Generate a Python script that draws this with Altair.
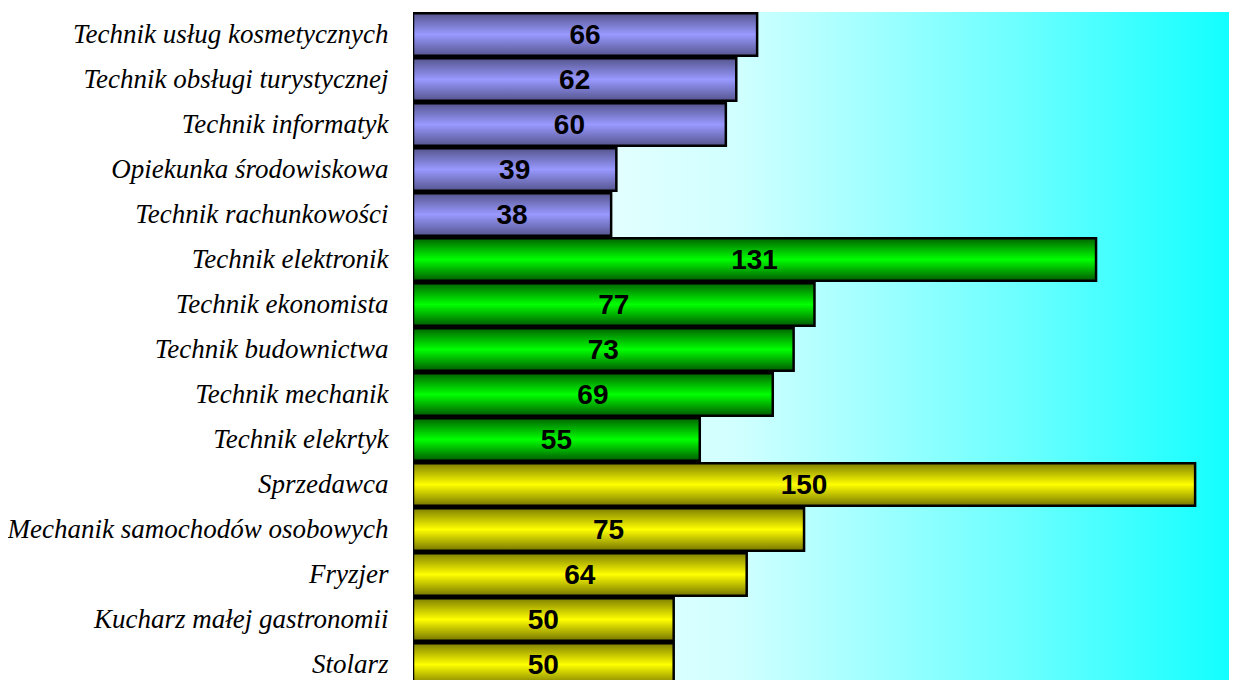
import altair as alt
import pandas as pd

categories = [
    "Technik usług kosmetycznych",
    "Technik obsługi turystycznej",
    "Technik informatyk",
    "Opiekunka środowiskowa",
    "Technik rachunkowości",
    "Technik elektronik",
    "Technik ekonomista",
    "Technik budownictwa",
    "Technik mechanik",
    "Technik elekrtyk",
    "Sprzedawca",
    "Mechanik samochodów osobowych",
    "Fryzjer",
    "Kucharz małej gastronomii",
    "Stolarz",
]
values = [66, 62, 60, 39, 38, 131, 77, 73, 69, 55, 150, 75, 64, 50, 50]
groups = ["a"] * 5 + ["b"] * 5 + ["c"] * 5

df = pd.DataFrame({"cat": categories, "val": values, "grp": groups})

W, H = 816, 668

def vgrad(edge_top, mid, edge_bot):
    return alt.Gradient(
        gradient="linear",
        x1=0, y1=0, x2=0, y2=1,
        stops=[
            alt.GradientStop(offset=0, color=edge_top),
            alt.GradientStop(offset=0.5, color=mid),
            alt.GradientStop(offset=1, color=edge_bot),
        ],
    )

grad_fill = {
    "a": vgrad("#55558f", "#9999ff", "#55558f"),
    "b": vgrad("#006600", "#00ff00", "#005a00"),
    "c": vgrad("#808000", "#ffff00", "#767600"),
}

bg_grad = alt.Gradient(
    gradient="linear",
    x1=0, y1=0, x2=1, y2=0,
    stops=[
        alt.GradientStop(offset=0, color="#ffffff"),
        alt.GradientStop(offset=0.4, color="#d0ffff"),
        alt.GradientStop(offset=0.75, color="#6affff"),
        alt.GradientStop(offset=1, color="#12ffff"),
    ],
)

yscale = alt.Scale(domain=categories, range=[0, 675], paddingInner=0.06, paddingOuter=0.03)
xscale = alt.Scale(domain=[0, 156.5], nice=False, zero=True)

yenc = alt.Y(
    "cat:N",
    sort=categories,
    scale=yscale,
    axis=alt.Axis(
        title=None,
        domain=False,
        ticks=False,
        labelFont="Liberation Serif",
        labelFontStyle="italic",
        labelFontSize=27,
        labelColor="#000000",
        labelPadding=25,
        labelLimit=600,
    ),
)

bg = alt.Chart(pd.DataFrame({"a": [0]})).mark_rect(fill=bg_grad).encode(
    x=alt.value(0), x2=alt.value(W), y=alt.value(0), y2=alt.value(H)
)

layers = [bg]
for g in ["a", "b", "c"]:
    layers.append(
        alt.Chart(df)
        .transform_filter(alt.datum.grp == g)
        .mark_bar(fill=grad_fill[g], stroke="#000000", strokeWidth=2.5, clip=True)
        .encode(y=yenc, x=alt.X("val:Q", scale=xscale, axis=None))
    )

text = (
    alt.Chart(df)
    .transform_calculate(mid="datum.val / 2")
    .mark_text(
        font="Liberation Sans",
        fontWeight="bold",
        fontSize=28,
        color="#000000",
        baseline="middle",
        align="center",
        dy=1,
    )
    .encode(y=yenc, x=alt.X("mid:Q", scale=xscale, axis=None), text="val:Q")
)
layers.append(text)

chart = (
    alt.layer(*layers)
    .properties(
        width=W,
        height=H,
        autosize=alt.AutoSizeParams(type="none"),
        padding={"left": 405, "top": 4, "right": 0, "bottom": 0},
    )
    .configure_view(stroke=None)
)

chart.save("out.html", embed_options={"renderer": "svg", "actions": False})
